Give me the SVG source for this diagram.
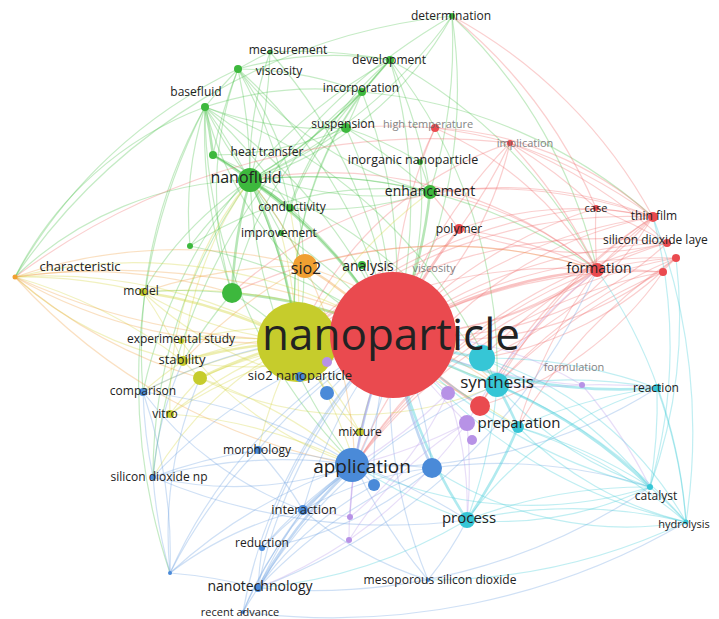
<svg xmlns="http://www.w3.org/2000/svg" width="719" height="619" viewBox="0 0 719 619">
<style>
.e path{fill:none;stroke-width:1.2;stroke-opacity:.32}
.e .t{stroke-width:2.6;stroke-opacity:.4}
.g{stroke:#4cc04c}.r{stroke:#f06a6a}.y{stroke:#d2d43a}.o{stroke:#f0a040}.b{stroke:#6aa0e0}.c{stroke:#3ccad8}.p{stroke:#b898e8}
.ng{fill:#3db83d}.nr{fill:#ea4a4f}.ny{fill:#c6cc2c}.no{fill:#f0a032}.nb{fill:#4a8ad8}.nc{fill:#36c6d6}.np{fill:#b792e6}
text{font-family:"Open Sans","DejaVu Sans",sans-serif;fill:#222;text-anchor:middle}
.f{fill:#666;opacity:.8}
</style>
<rect width="719" height="619" fill="#fff"/>
<g id="connectors" class="e">
<path class="g t" d="M250 180A500 500 0 0 1 393 335"/>
<path class="g" d="M250 180A500 500 0 0 1 205 107"/>
<path class="g" d="M238 69A500 500 0 0 1 250 180"/>
<path class="g t" d="M213 155A500 500 0 0 1 250 180"/>
<path class="g t" d="M250 180A500 500 0 0 1 290 208"/>
<path class="g" d="M270 52A500 500 0 0 1 250 180"/>
<path class="g" d="M390 60A500 500 0 0 1 250 180"/>
<path class="g" d="M362 92A500 500 0 0 1 250 180"/>
<path class="g" d="M346 128A500 500 0 0 1 250 180"/>
<path class="g" d="M250 180A500 500 0 0 1 430 192"/>
<path class="g" d="M250 180A500 500 0 0 1 281 233"/>
<path class="g t" d="M232 293A500 500 0 0 1 250 180"/>
<path class="g t" d="M250 180A500 500 0 0 1 297 342"/>
<path class="g" d="M250 180A500 500 0 0 1 305 266"/>
<path class="g" d="M452 16A500 500 0 0 1 250 180"/>
<path class="g" d="M205 107A500 500 0 0 1 238 69"/>
<path class="g t" d="M205 107A500 500 0 0 1 213 155"/>
<path class="g" d="M205 107A500 500 0 0 1 290 208"/>
<path class="g" d="M232 293A500 500 0 0 1 205 107"/>
<path class="g" d="M205 107A500 500 0 0 1 393 335"/>
<path class="g" d="M205 107A500 500 0 0 1 297 342"/>
<path class="g" d="M238 69A500 500 0 0 1 290 208"/>
<path class="g" d="M238 69A500 500 0 0 1 393 335"/>
<path class="g" d="M238 69A500 500 0 0 1 270 52"/>
<path class="g" d="M213 155A500 500 0 0 1 238 69"/>
<path class="g" d="M213 155A500 500 0 0 1 393 335"/>
<path class="g" d="M213 155A500 500 0 0 1 290 208"/>
<path class="g" d="M290 208A500 500 0 0 1 393 335"/>
<path class="g" d="M390 60A500 500 0 0 1 393 335"/>
<path class="g" d="M390 60A500 500 0 0 1 430 192"/>
<path class="g" d="M362 92A500 500 0 0 1 390 60"/>
<path class="g" d="M452 16A500 500 0 0 1 393 335"/>
<path class="g" d="M452 16A500 500 0 0 1 430 192"/>
<path class="g" d="M452 16A500 500 0 0 1 597 270"/>
<path class="g" d="M362 92A500 500 0 0 1 393 335"/>
<path class="g" d="M362 92A500 500 0 0 1 346 128"/>
<path class="g" d="M346 128A500 500 0 0 1 393 335"/>
<path class="g" d="M346 128A500 500 0 0 1 430 192"/>
<path class="g t" d="M430 192A500 500 0 0 1 393 335"/>
<path class="g" d="M420 162A500 500 0 0 1 430 192"/>
<path class="g t" d="M232 293A500 500 0 0 1 393 335"/>
<path class="g" d="M232 293A500 500 0 0 1 297 342"/>
<path class="g" d="M190 246A500 500 0 0 1 393 335"/>
<path class="g" d="M190 246A500 500 0 0 1 250 180"/>
<path class="g" d="M281 233A500 500 0 0 1 393 335"/>
<path class="g" d="M270 52A500 500 0 0 1 393 335"/>
<path class="g" d="M362 265A500 500 0 0 1 393 335"/>
<path class="g" d="M270 52A500 500 0 0 1 390 60"/>
<path class="g" d="M143 292A500 500 0 0 1 232 293"/>
<path class="g" d="M183 361A500 500 0 0 1 232 293"/>
<path class="g" d="M205 107A500 500 0 0 1 497 385"/>
<path class="g" d="M143 392A500 500 0 0 1 205 107"/>
<path class="g" d="M15 277A500 500 0 0 1 238 69"/>
<path class="g" d="M15 277A600 600 0 0 1 452 16"/>
<path class="g" d="M153 477A500 500 0 0 1 250 180"/>
<path class="g" d="M390 60A500 500 0 0 1 597 270"/>
<path class="g" d="M362 92A500 500 0 0 1 653 217"/>
<path class="g" d="M250 180A500 500 0 0 1 597 270"/>
<path class="g" d="M170 573A600 600 0 0 1 205 107"/>
<path class="g" d="M153 477A600 600 0 0 1 452 16"/>
<path class="g" d="M143 392A500 500 0 0 1 390 60"/>
<path class="g" d="M205 107A350 350 0 0 0 393 335"/>
<path class="g" d="M238 69A350 350 0 0 0 430 192"/>
<path class="g" d="M270 52A350 350 0 0 0 250 180"/>
<path class="g" d="M205 107A350 350 0 0 0 346 128"/>
<path class="g" d="M205 107A350 350 0 0 1 362 92"/>
<path class="g" d="M238 69A350 350 0 0 1 390 60"/>
<path class="g" d="M238 69A350 350 0 0 1 362 92"/>
<path class="g" d="M213 155A350 350 0 0 0 430 192"/>
<path class="g" d="M213 155A350 350 0 0 0 346 128"/>
<path class="g" d="M250 180A350 350 0 0 0 452 16"/>
<path class="g" d="M290 208A350 350 0 0 0 430 192"/>
<path class="g" d="M290 208A350 350 0 0 1 362 92"/>
<path class="g" d="M281 233A350 350 0 0 1 390 60"/>
<path class="g" d="M232 293A350 350 0 0 1 362 92"/>
<path class="g" d="M232 293A350 350 0 0 1 238 69"/>
<path class="g" d="M190 246A350 350 0 0 1 205 107"/>
<path class="g" d="M190 246A350 350 0 0 1 430 192"/>
<path class="g" d="M143 292A350 350 0 0 1 250 180"/>
<path class="g" d="M15 277A350 350 0 0 1 250 180"/>
<path class="g" d="M15 277A350 350 0 0 1 205 107"/>
<path class="g" d="M297 342A350 350 0 0 1 390 60"/>
<path class="g" d="M297 342A350 350 0 0 1 362 92"/>
<path class="g" d="M297 342A350 350 0 0 0 238 69"/>
<path class="g" d="M355 465A500 500 0 0 1 250 180"/>
<path class="g" d="M355 465A500 500 0 0 1 205 107"/>
<path class="g" d="M497 385A500 500 0 0 0 250 180"/>
<path class="g" d="M497 385A500 500 0 0 0 390 60"/>
<path class="g" d="M346 128A350 350 0 0 1 420 162"/>
<path class="g" d="M420 162A350 350 0 0 1 393 335"/>
<path class="r t" d="M393 335A500 500 0 0 1 597 270"/>
<path class="r" d="M393 335A500 500 0 0 1 653 217"/>
<path class="r" d="M393 335A500 500 0 0 1 667 243"/>
<path class="r" d="M393 335A500 500 0 0 1 676 258"/>
<path class="r" d="M393 335A500 500 0 0 1 663 272"/>
<path class="r" d="M393 335A500 500 0 0 1 596 208"/>
<path class="r t" d="M393 335A500 500 0 0 1 459 229"/>
<path class="r" d="M393 335A500 500 0 0 1 510 143"/>
<path class="r" d="M393 335A500 500 0 0 1 435 128"/>
<path class="r" d="M597 270A500 500 0 0 1 653 217"/>
<path class="r" d="M597 270A500 500 0 0 1 596 208"/>
<path class="r" d="M597 270A500 500 0 0 1 667 243"/>
<path class="r" d="M597 270A500 500 0 0 1 676 258"/>
<path class="r" d="M597 270A500 500 0 0 1 663 272"/>
<path class="r" d="M510 143A500 500 0 0 1 597 270"/>
<path class="r" d="M459 229A500 500 0 0 1 597 270"/>
<path class="r" d="M510 143A500 500 0 0 1 459 229"/>
<path class="r" d="M435 128A500 500 0 0 1 510 143"/>
<path class="r" d="M510 143A500 500 0 0 1 596 208"/>
<path class="r" d="M510 143A500 500 0 0 1 653 217"/>
<path class="r" d="M510 143A500 500 0 0 1 667 243"/>
<path class="r" d="M596 208A500 500 0 0 1 653 217"/>
<path class="r" d="M596 208A500 500 0 0 1 667 243"/>
<path class="r t" d="M480 406A500 500 0 0 1 393 335"/>
<path class="r" d="M480 406A500 500 0 0 1 597 270"/>
<path class="r" d="M480 406A500 500 0 0 1 653 217"/>
<path class="r" d="M482 358A500 500 0 0 1 597 270"/>
<path class="r" d="M497 385A500 500 0 0 1 663 272"/>
<path class="r" d="M497 385A500 500 0 0 1 676 258"/>
<path class="r" d="M297 342A500 500 0 0 1 667 243"/>
<path class="r" d="M297 342A500 500 0 0 1 653 217"/>
<path class="r" d="M297 342A500 500 0 0 1 597 270"/>
<path class="r" d="M355 465A500 500 0 0 1 597 270"/>
<path class="r" d="M250 180A420 420 0 0 1 597 270"/>
<path class="r" d="M430 192A500 500 0 0 1 653 217"/>
<path class="r" d="M355 465A500 500 0 0 1 676 258"/>
<path class="r" d="M355 465A500 500 0 0 1 663 272"/>
<path class="r" d="M355 465A500 500 0 0 1 667 243"/>
<path class="r" d="M430 192A500 500 0 0 1 459 229"/>
<path class="r" d="M346 128A500 500 0 0 1 435 128"/>
<path class="r" d="M420 162A500 500 0 0 1 435 128"/>
<path class="r" d="M297 342A500 500 0 0 1 459 229"/>
<path class="r" d="M297 342A500 500 0 0 1 596 208"/>
<path class="r" d="M518 427A500 500 0 0 1 676 258"/>
<path class="r" d="M497 385A500 500 0 0 1 653 217"/>
<path class="r" d="M518 427A500 500 0 0 1 597 270"/>
<path class="r" d="M232 293A500 500 0 0 1 597 270"/>
<path class="r" d="M15 277A700 700 0 0 1 510 143"/>
<path class="r" d="M452 16A500 500 0 0 1 653 217"/>
<path class="r" d="M452 16A500 500 0 0 1 596 208"/>
<path class="r" d="M393 335A350 350 0 0 0 597 270"/>
<path class="r" d="M393 335A350 350 0 0 0 653 217"/>
<path class="r" d="M393 335A350 350 0 0 0 667 243"/>
<path class="r" d="M393 335A350 350 0 0 0 676 258"/>
<path class="r" d="M459 229A350 350 0 0 1 653 217"/>
<path class="r" d="M459 229A350 350 0 0 0 667 243"/>
<path class="r" d="M482 358A350 350 0 0 0 653 217"/>
<path class="r" d="M482 358A350 350 0 0 0 676 258"/>
<path class="r" d="M480 406A350 350 0 0 0 663 272"/>
<path class="r" d="M430 192A350 350 0 0 1 597 270"/>
<path class="r" d="M355 465A400 400 0 0 1 653 217"/>
<path class="r" d="M297 342A350 350 0 0 1 510 143"/>
<path class="r" d="M232 293A400 400 0 0 1 653 217"/>
<path class="r" d="M510 143A350 350 0 0 1 393 335"/>
<path class="r" d="M435 128A350 350 0 0 1 597 270"/>
<path class="r" d="M435 128A350 350 0 0 1 653 217"/>
<path class="y t" d="M297 342A500 500 0 0 1 393 335"/>
<path class="y" d="M15 277A500 500 0 0 1 297 342"/>
<path class="y t" d="M143 292A500 500 0 0 1 297 342"/>
<path class="y t" d="M183 361A500 500 0 0 1 297 342"/>
<path class="y t" d="M200 378A500 500 0 0 1 297 342"/>
<path class="y" d="M170 414A500 500 0 0 1 297 342"/>
<path class="y" d="M181 341A500 500 0 0 1 297 342"/>
<path class="y" d="M143 392A500 500 0 0 1 297 342"/>
<path class="y" d="M297 342A500 500 0 0 1 360 432"/>
<path class="y" d="M143 292A500 500 0 0 1 393 335"/>
<path class="y" d="M15 277A500 500 0 0 1 143 292"/>
<path class="y" d="M15 277A500 500 0 0 1 393 335"/>
<path class="y" d="M183 361A500 500 0 0 1 393 335"/>
<path class="y" d="M200 378A500 500 0 0 1 393 335"/>
<path class="y" d="M170 414A500 500 0 0 1 393 335"/>
<path class="y" d="M181 341A500 500 0 0 1 393 335"/>
<path class="y" d="M360 432A500 500 0 0 1 393 335"/>
<path class="y" d="M297 342A500 500 0 0 1 300 377"/>
<path class="y" d="M297 342A500 500 0 0 1 497 385"/>
<path class="y" d="M297 342A500 500 0 0 1 355 465"/>
<path class="y" d="M183 361A500 500 0 0 1 200 378"/>
<path class="y" d="M143 292A500 500 0 0 1 183 361"/>
<path class="y" d="M15 277A500 500 0 0 1 183 361"/>
<path class="y" d="M297 342A500 500 0 0 1 430 192"/>
<path class="y" d="M281 233A500 500 0 0 1 297 342"/>
<path class="y" d="M290 208A500 500 0 0 1 297 342"/>
<path class="y" d="M200 378A500 500 0 0 1 355 465"/>
<path class="y" d="M170 414A500 500 0 0 1 355 465"/>
<path class="y" d="M258 450A500 500 0 0 1 297 342"/>
<path class="y" d="M297 342A500 500 0 0 1 518 427"/>
<path class="y" d="M143 292A350 350 0 0 0 393 335"/>
<path class="y" d="M183 361A350 350 0 0 0 393 335"/>
<path class="y" d="M15 277A350 350 0 0 0 183 361"/>
<path class="y" d="M143 392A350 350 0 0 1 183 361"/>
<path class="y" d="M170 414A350 350 0 0 1 200 378"/>
<path class="y" d="M181 341A350 350 0 0 0 355 465"/>
<path class="y" d="M143 292A350 350 0 0 0 300 377"/>
<path class="y" d="M200 378A350 350 0 0 0 497 385"/>
<path class="y" d="M183 361A350 350 0 0 1 250 180"/>
<path class="y" d="M170 414A350 350 0 0 1 250 180"/>
<path class="y" d="M153 477A350 350 0 0 1 297 342"/>
<path class="y" d="M360 432A350 350 0 0 1 297 342"/>
<path class="y" d="M297 342A350 350 0 0 1 327 393"/>
<path class="o t" d="M305 266A500 500 0 0 1 393 335"/>
<path class="o" d="M15 277A500 500 0 0 1 305 266"/>
<path class="o" d="M15 277A500 500 0 0 1 232 293"/>
<path class="o" d="M15 277A700 700 0 0 1 497 385"/>
<path class="o" d="M15 277A600 600 0 0 0 355 465"/>
<path class="o" d="M15 277A700 700 0 0 0 393 335"/>
<path class="o" d="M15 277A500 500 0 0 0 200 378"/>
<path class="o" d="M15 277A500 500 0 0 0 297 342"/>
<path class="o" d="M143 292A500 500 0 0 1 305 266"/>
<path class="o" d="M305 266A500 500 0 0 1 355 465"/>
<path class="o" d="M305 266A500 500 0 0 1 597 270"/>
<path class="o" d="M250 180A500 500 0 0 1 305 266"/>
<path class="o" d="M305 266A500 500 0 0 1 497 385"/>
<path class="o" d="M183 361A500 500 0 0 1 305 266"/>
<path class="b t" d="M355 465A500 500 0 0 1 393 335"/>
<path class="b t" d="M303 510A500 500 0 0 1 355 465"/>
<path class="b" d="M262 548A500 500 0 0 1 355 465"/>
<path class="b t" d="M258 588A500 500 0 0 1 355 465"/>
<path class="b" d="M258 450A500 500 0 0 1 355 465"/>
<path class="b" d="M153 477A500 500 0 0 1 355 465"/>
<path class="b" d="M143 392A500 500 0 0 1 355 465"/>
<path class="b" d="M355 465A500 500 0 0 1 432 468"/>
<path class="b" d="M355 465A500 500 0 0 1 374 485"/>
<path class="b" d="M355 465A500 500 0 0 1 467 520"/>
<path class="b" d="M258 588A500 500 0 0 1 393 335"/>
<path class="b" d="M258 588A500 500 0 0 1 303 510"/>
<path class="b" d="M258 588A500 500 0 0 1 262 548"/>
<path class="b" d="M243 612A500 500 0 0 1 258 588"/>
<path class="b" d="M170 573A500 500 0 0 1 258 588"/>
<path class="b" d="M303 510A500 500 0 0 1 393 335"/>
<path class="b" d="M262 548A500 500 0 0 1 393 335"/>
<path class="b" d="M262 548A500 500 0 0 1 303 510"/>
<path class="b" d="M170 573A500 500 0 0 1 153 477"/>
<path class="b" d="M170 573A500 500 0 0 1 393 335"/>
<path class="b" d="M153 477A500 500 0 0 1 393 335"/>
<path class="b" d="M143 392A500 500 0 0 1 393 335"/>
<path class="b" d="M258 450A500 500 0 0 1 393 335"/>
<path class="b t" d="M432 468A500 500 0 0 1 393 335"/>
<path class="b" d="M374 485A500 500 0 0 1 393 335"/>
<path class="b" d="M327 393A500 500 0 0 1 393 335"/>
<path class="b" d="M300 377A500 500 0 0 1 393 335"/>
<path class="b" d="M243 612A500 500 0 0 1 393 335"/>
<path class="b" d="M170 573A500 500 0 0 1 355 465"/>
<path class="b" d="M153 477A500 500 0 0 1 143 392"/>
<path class="b" d="M153 477A500 500 0 0 1 258 450"/>
<path class="b" d="M428 580A500 500 0 0 1 393 335"/>
<path class="b" d="M428 580A500 500 0 0 1 355 465"/>
<path class="b" d="M432 468A500 500 0 0 1 650 487"/>
<path class="b" d="M143 392A500 500 0 0 1 170 573"/>
<path class="b" d="M243 612A500 500 0 0 1 303 510"/>
<path class="b" d="M258 588A500 500 0 0 1 432 468"/>
<path class="b" d="M258 588A500 500 0 0 1 497 385"/>
<path class="b" d="M170 573A500 500 0 0 1 258 450"/>
<path class="b" d="M355 465A500 500 0 0 0 657 388"/>
<path class="b" d="M258 588A600 600 0 0 0 650 487"/>
<path class="b" d="M153 477A600 600 0 0 0 467 520"/>
<path class="b" d="M243 612A700 700 0 0 0 686 522"/>
<path class="b" d="M258 588A600 600 0 0 0 597 270"/>
<path class="b" d="M355 465A350 350 0 0 0 393 335"/>
<path class="b" d="M153 477A350 350 0 0 0 355 465"/>
<path class="b" d="M143 392A350 350 0 0 0 303 510"/>
<path class="b" d="M170 573A350 350 0 0 1 303 510"/>
<path class="b" d="M170 573A400 400 0 0 1 200 378"/>
<path class="b" d="M153 477A350 350 0 0 1 183 361"/>
<path class="b" d="M258 450A350 350 0 0 1 303 510"/>
<path class="b" d="M262 548A350 350 0 0 0 432 468"/>
<path class="b" d="M303 510A350 350 0 0 1 432 468"/>
<path class="b" d="M258 588A350 350 0 0 1 374 485"/>
<path class="b" d="M243 612A350 350 0 0 1 355 465"/>
<path class="b" d="M428 580A350 350 0 0 1 303 510"/>
<path class="b" d="M428 580A350 350 0 0 0 467 520"/>
<path class="b" d="M432 468A350 350 0 0 0 393 335"/>
<path class="c t" d="M482 358A500 500 0 0 1 393 335"/>
<path class="c t" d="M497 385A500 500 0 0 1 393 335"/>
<path class="c t" d="M497 385A500 500 0 0 1 518 427"/>
<path class="c" d="M497 385A500 500 0 0 1 467 520"/>
<path class="c" d="M497 385A500 500 0 0 1 657 388"/>
<path class="c t" d="M497 385A500 500 0 0 1 650 487"/>
<path class="c" d="M497 385A500 500 0 0 1 686 522"/>
<path class="c" d="M518 427A500 500 0 0 1 393 335"/>
<path class="c t" d="M518 427A500 500 0 0 1 467 520"/>
<path class="c" d="M518 427A500 500 0 0 1 650 487"/>
<path class="c" d="M518 427A500 500 0 0 1 657 388"/>
<path class="c" d="M518 427A500 500 0 0 1 686 522"/>
<path class="c t" d="M467 520A500 500 0 0 1 393 335"/>
<path class="c" d="M467 520A500 500 0 0 1 650 487"/>
<path class="c t" d="M657 388A500 500 0 0 1 393 335"/>
<path class="c" d="M657 388A500 500 0 0 1 650 487"/>
<path class="c" d="M650 487A500 500 0 0 1 393 335"/>
<path class="c" d="M686 522A500 500 0 0 1 393 335"/>
<path class="c" d="M650 487A500 500 0 0 1 686 522"/>
<path class="c" d="M467 520A500 500 0 0 1 355 465"/>
<path class="c" d="M482 358A500 500 0 0 1 657 388"/>
<path class="c" d="M657 388A500 500 0 0 1 686 522"/>
<path class="c" d="M467 520A500 500 0 0 1 258 588"/>
<path class="c" d="M467 520A500 500 0 0 1 686 522"/>
<path class="c" d="M482 358A500 500 0 0 1 650 487"/>
<path class="c" d="M686 522A500 500 0 0 0 597 270"/>
<path class="c" d="M650 487A500 500 0 0 0 653 217"/>
<path class="c" d="M428 580A600 600 0 0 0 686 522"/>
<path class="c" d="M497 385A350 350 0 0 0 650 487"/>
<path class="c" d="M518 427A350 350 0 0 0 686 522"/>
<path class="c" d="M467 520A350 350 0 0 0 650 487"/>
<path class="c" d="M482 358A350 350 0 0 1 686 522"/>
<path class="c" d="M657 388A350 350 0 0 0 467 520"/>
<path class="c" d="M355 465A400 400 0 0 0 650 487"/>
<path class="c" d="M432 468A350 350 0 0 0 686 522"/>
<path class="c" d="M650 487A500 500 0 0 0 676 258"/>
<path class="c" d="M686 522A600 600 0 0 0 653 217"/>
<path class="p" d="M467 423A500 500 0 0 1 393 335"/>
<path class="p" d="M448 393A500 500 0 0 1 393 335"/>
<path class="p" d="M350 517A500 500 0 0 1 393 335"/>
<path class="p" d="M349 540A500 500 0 0 1 393 335"/>
<path class="p" d="M582 385A500 500 0 0 1 393 335"/>
<path class="p" d="M582 385A500 500 0 0 1 497 385"/>
<path class="p" d="M467 423A500 500 0 0 1 355 465"/>
<path class="p" d="M350 517A500 500 0 0 1 355 465"/>
<path class="p" d="M349 540A500 500 0 0 1 258 588"/>
<path class="p" d="M582 385A500 500 0 0 1 657 388"/>
<path class="p" d="M467 423A500 500 0 0 1 467 520"/>
<path class="p" d="M467 423A500 500 0 0 1 597 270"/>
<path class="p" d="M582 385A500 500 0 0 1 650 487"/>
<path class="p" d="M303 510A500 500 0 0 1 350 517"/>
<path class="p" d="M448 393A500 500 0 0 1 355 465"/>
<path class="p" d="M467 423A500 500 0 0 1 349 540"/>
<path class="p" d="M582 385A350 350 0 0 0 393 335"/>
<path class="p" d="M448 393A350 350 0 0 1 467 520"/>
<path class="p" d="M349 540A350 350 0 0 1 467 423"/>
<path class="p" d="M350 517A350 350 0 0 0 448 393"/>
</g>
<g id="n-yellow-hub"><circle class="ny" cx="297" cy="342" r="40"/></g>
<g id="n-synthesis-a"><circle class="nc" cx="482" cy="358" r="13"/></g>
<g id="n-purple-a"><circle class="np" cx="448" cy="393" r="7"/></g>
<g id="n-nanoparticle"><circle class="nr" cx="393" cy="335" r="63"/><text x="391" y="350" font-size="44">nanoparticle</text></g>
<g id="n-synthesis"><circle class="nc" cx="497" cy="385" r="12"/><text x="497" y="388" font-size="17">synthesis</text></g>
<g id="n-red-b"><circle class="nr" cx="480" cy="406" r="10"/></g>
<g id="n-purple-b"><circle class="np" cx="467" cy="423" r="8"/></g>
<g id="n-purple-c"><circle class="np" cx="472" cy="440" r="5"/></g>
<g id="n-preparation"><circle class="nc" cx="518" cy="427" r="6"/><text x="519" y="428" font-size="15">preparation</text></g>
<g id="n-blue-b"><circle class="nb" cx="432" cy="468" r="10"/></g>
<g id="n-blue-c"><circle class="nb" cx="374" cy="485" r="6"/></g>
<g id="n-blue-d"><circle class="nb" cx="327" cy="393" r="7"/></g>
<g id="n-purple-d"><circle class="np" cx="327" cy="362" r="5"/></g>
<g id="n-application"><circle class="nb" cx="352" cy="465" r="17"/><text x="362" y="473" font-size="19">application</text></g>
<g id="n-process"><circle class="nc" cx="467" cy="520" r="8"/><text x="469" y="523" font-size="15">process</text></g>
<g id="n-sio2"><circle class="no" cx="305" cy="266" r="12"/><text x="306" y="274" font-size="16">sio2</text></g>
<g id="n-green-a"><circle class="ng" cx="232" cy="293" r="10"/></g>
<g id="n-green-b"><circle class="ng" cx="190" cy="246" r="3"/></g>
<g id="n-nanofluid"><circle class="ng" cx="250" cy="180" r="12"/><text x="246" y="183" font-size="16">nanofluid</text></g>
<g id="n-enhancement"><circle class="ng" cx="430" cy="192" r="7"/><text x="430" y="196" font-size="14">enhancement</text></g>
<g id="n-analysis"><circle class="ng" cx="362" cy="265" r="4"/><text x="368" y="271" font-size="14">analysis</text></g>
<g id="n-viscosity-b"><text class="f" x="434" y="272" font-size="11">viscosity</text></g>
<g id="n-determination"><circle class="ng" cx="452" cy="16" r="3"/><text x="451" y="20" font-size="12">determination</text></g>
<g id="n-measurement"><circle class="ng" cx="270" cy="52" r="2.5"/><text x="288" y="54" font-size="12">measurement</text></g>
<g id="n-development"><circle class="ng" cx="390" cy="60" r="4"/><text x="389" y="64" font-size="12">development</text></g>
<g id="n-viscosity"><circle class="ng" cx="238" cy="69" r="4"/><text x="279" y="75" font-size="12">viscosity</text></g>
<g id="n-basefluid"><circle class="ng" cx="205" cy="107" r="4"/><text x="196" y="96" font-size="12">basefluid</text></g>
<g id="n-incorporation"><circle class="ng" cx="362" cy="92" r="4"/><text x="361" y="92" font-size="12">incorporation</text></g>
<g id="n-suspension"><circle class="ng" cx="346" cy="128" r="5"/><text x="343" y="128" font-size="12">suspension</text></g>
<g id="n-high-temperature"><circle class="nr" cx="435" cy="128" r="4"/><text class="f" x="428" y="128" font-size="11">high temperature</text></g>
<g id="n-heat-transfer"><circle class="ng" cx="213" cy="155" r="4"/><text x="267" y="156" font-size="12">heat transfer</text></g>
<g id="n-inorganic-nanoparticle"><circle class="ng" cx="420" cy="162" r="3"/><text x="413" y="164" font-size="12.5">inorganic nanoparticle</text></g>
<g id="n-implication"><circle class="nr" cx="510" cy="143" r="3"/><text class="f" x="525" y="147" font-size="11">implication</text></g>
<g id="n-conductivity"><circle class="ng" cx="290" cy="208" r="4"/><text x="292" y="211" font-size="12">conductivity</text></g>
<g id="n-improvement"><circle class="ng" cx="281" cy="233" r="3"/><text x="279" y="237" font-size="12">improvement</text></g>
<g id="n-case"><circle class="nr" cx="596" cy="208" r="3"/><text x="596" y="212" font-size="11">case</text></g>
<g id="n-thin-film"><circle class="nr" cx="653" cy="217" r="5"/><text x="654" y="220" font-size="12">thin film</text></g>
<g id="n-polymer"><circle class="nr" cx="459" cy="229" r="5"/><text x="459" y="233" font-size="12">polymer</text></g>
<g id="n-silicon-dioxide-layer"><circle class="nr" cx="667" cy="243" r="4"/><text x="603" y="244" font-size="12" style="text-anchor:start">silicon dioxide laye</text></g>
<g id="n-red-c"><circle class="nr" cx="676" cy="258" r="4"/></g>
<g id="n-red-d"><circle class="nr" cx="663" cy="272" r="4"/></g>
<g id="n-formation"><circle class="nr" cx="597" cy="270" r="7"/><text x="599" y="273" font-size="14">formation</text></g>
<g id="n-characteristic"><circle class="no" cx="15" cy="277" r="2.5"/><text x="80" y="271" font-size="13">characteristic</text></g>
<g id="n-model"><circle class="ny" cx="143" cy="292" r="4"/><text x="141" y="295" font-size="12">model</text></g>
<g id="n-experimental-study"><circle class="ny" cx="181" cy="341" r="3"/><text x="181" y="343" font-size="12">experimental study</text></g>
<g id="n-stability"><circle class="ny" cx="183" cy="361" r="5"/><text x="182" y="364" font-size="13">stability</text></g>
<g id="n-yellow-b"><circle class="ny" cx="200" cy="378" r="7"/></g>
<g id="n-sio2-nanoparticle"><circle class="nb" cx="300" cy="377" r="5"/><text x="300" y="380" font-size="13">sio2 nanoparticle</text></g>
<g id="n-formulation"><circle class="np" cx="582" cy="385" r="3"/><text class="f" x="574" y="371" font-size="11">formulation</text></g>
<g id="n-reaction"><circle class="nc" cx="657" cy="388" r="4"/><text x="656" y="392" font-size="12">reaction</text></g>
<g id="n-comparison"><circle class="nb" cx="143" cy="392" r="4"/><text x="143" y="395" font-size="12">comparison</text></g>
<g id="n-vitro"><circle class="ny" cx="170" cy="414" r="4"/><text x="165" y="418" font-size="12">vitro</text></g>
<g id="n-mixture"><circle class="ny" cx="360" cy="432" r="4"/><text x="360" y="436" font-size="12">mixture</text></g>
<g id="n-morphology"><circle class="nb" cx="258" cy="450" r="4"/><text x="257" y="454" font-size="12">morphology</text></g>
<g id="n-silicon-dioxide-np"><circle class="nb" cx="153" cy="477" r="3"/><text x="159" y="481" font-size="12">silicon dioxide np</text></g>
<g id="n-catalyst"><circle class="nc" cx="650" cy="487" r="3"/><text x="656" y="500" font-size="12">catalyst</text></g>
<g id="n-interaction"><circle class="nb" cx="303" cy="510" r="5"/><text x="304" y="514" font-size="13">interaction</text></g>
<g id="n-hydrolysis"><circle class="nc" cx="686" cy="522" r="2.5"/><text x="684" y="528" font-size="11">hydrolysis</text></g>
<g id="n-purple-e"><circle class="np" cx="350" cy="517" r="3"/></g>
<g id="n-purple-f"><circle class="np" cx="349" cy="540" r="3"/></g>
<g id="n-reduction"><circle class="nb" cx="262" cy="548" r="3"/><text x="262" y="547" font-size="12">reduction</text></g>
<g id="n-mesoporous-silicon-dioxide"><circle class="nb" cx="428" cy="580" r="2"/><text x="440" y="584" font-size="12">mesoporous silicon dioxide</text></g>
<g id="n-blue-e"><circle class="nb" cx="170" cy="573" r="2"/></g>
<g id="n-nanotechnology"><circle class="nb" cx="258" cy="588" r="4"/><text x="260" y="591" font-size="14">nanotechnology</text></g>
<g id="n-recent-advance"><circle class="nb" cx="243" cy="612" r="2"/><text x="240" y="616" font-size="11">recent advance</text></g>
</svg>
